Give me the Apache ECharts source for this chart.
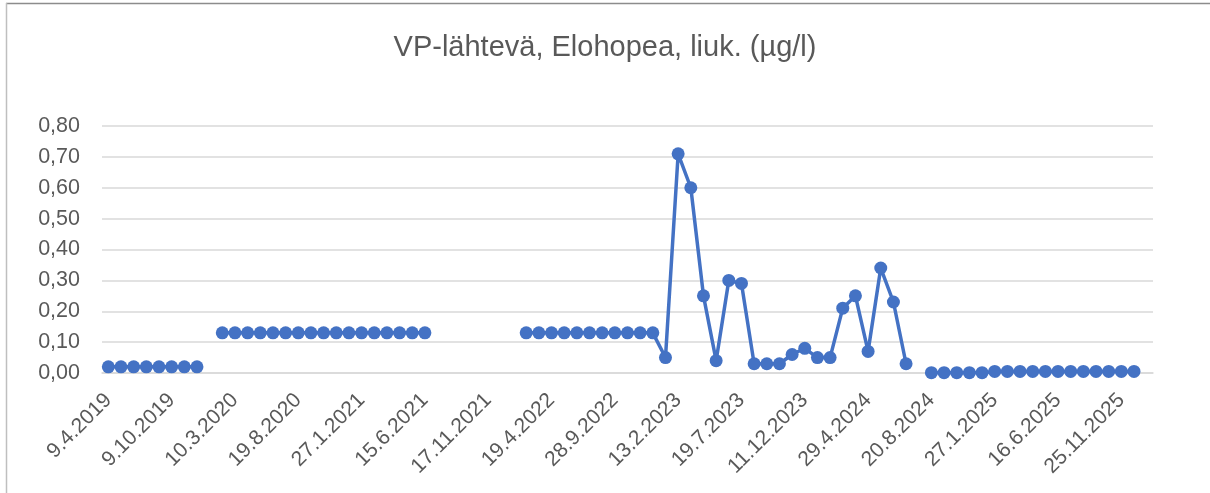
<!DOCTYPE html>
<html>
<head>
<meta charset="utf-8">
<script src="https://cdn.jsdelivr.net/npm/echarts@6/dist/echarts.min.js"></script>
<style>
html,body{margin:0;padding:0;background:#fff;}
#c{width:1210px;height:493px;}
</style>
</head>
<body>
<div id="c"></div>
<script>
// Tick labels shown on the category axis (every 5th category)
var tickLabels = ['9.4.2019','9.10.2019','10.3.2020','19.8.2020','27.1.2021','15.6.2021','17.11.2021','19.4.2022','28.9.2022','13.2.2023','19.7.2023','11.12.2023','29.4.2024','20.8.2024','27.1.2025','16.6.2025','25.11.2025'];
var labelStep = 5;
var categoryCount = 83;

// Values per category (null = no sample)
var group1 = [0.02,0.02,0.02,0.02,0.02,0.02,0.02,0.02];                 // idx 0-7
var gapA = [null];                                                        // idx 8
var group2 = [0.13,0.13,0.13,0.13,0.13,0.13,0.13,0.13,0.13,0.13,0.13,0.13,0.13,0.13,0.13,0.13,0.13]; // idx 9-25
var gapB = [null,null,null,null,null,null,null];                          // idx 26-32
var group3 = [0.13,0.13,0.13,0.13,0.13,0.13,0.13,0.13,0.13,0.13,0.13,
              0.05,0.71,0.60,0.25,0.04,0.30,0.29,0.03,0.03,0.03,0.06,0.08,0.05,0.05,0.21,0.25,0.07,0.34,0.23,0.03]; // idx 33-63
var gapC = [null];                                                        // idx 64
var group4 = [0.001,0.001,0.001,0.001,0.001,0.005,0.005,0.005,0.005,0.005,0.005,0.005,0.005,0.005,0.005,0.005,0.005]; // idx 65-81
var gapD = [null];                                                        // idx 82

var values = [].concat(group1, gapA, group2, gapB, group3, gapC, group4, gapD);
var categories = [];
for (var i = 0; i < categoryCount; i++) {
  categories.push(i % labelStep === 0 && tickLabels[i / labelStep] ? tickLabels[i / labelStep] : '');
}

var FONT = 'Liberation Sans';
var chart = echarts.init(document.getElementById('c'));
chart.setOption({
  animation: false,
  backgroundColor: '#fff',
  title: {
    text: 'VP-lähtevä, Elohopea, liuk. (µg/l)',
    left: 'center',
    top: 28,
    textStyle: {color: '#595959', fontFamily: FONT, fontWeight: 'normal', fontSize: 29}
  },
  graphic: [
    {type: 'line', shape: {x1: 6, y1: 3.5, x2: 1210, y2: 3.5}, style: {stroke: '#8c8c8c', lineWidth: 1.5}},
    {type: 'line', shape: {x1: 6.5, y1: 3, x2: 6.5, y2: 493}, style: {stroke: '#bfbfbf', lineWidth: 1.5}}
  ],
  grid: {left: 102, right: 57, top: 126, bottom: 120, containLabel: false},
  xAxis: {
    type: 'category',
    data: categories,
    boundaryGap: true,
    axisLine: {show: true, lineStyle: {color: '#d9d9d9', width: 1.5}},
    axisTick: {show: false},
    axisLabel: {
      interval: labelStep - 1,
      rotate: 45,
      margin: 24,
      color: '#595959',
      fontFamily: FONT,
      fontSize: 21
    }
  },
  yAxis: {
    type: 'value',
    min: 0,
    max: 0.8,
    interval: 0.1,
    axisLine: {show: false},
    axisTick: {show: false},
    splitLine: {lineStyle: {color: '#d9d9d9', width: 1.5}},
    axisLabel: {
      color: '#595959',
      fontFamily: FONT,
      fontSize: 21.5,
      margin: 22,
      formatter: function (v) { return v.toFixed(2).replace('.', ','); }
    }
  },
  series: [{
    type: 'line',
    data: values,
    connectNulls: false,
    showAllSymbol: true,
    symbol: 'circle',
    symbolSize: 13,
    itemStyle: {color: '#4472c4'},
    lineStyle: {color: '#4472c4', width: 3.5}
  }]
});
</script>
</body>
</html>
